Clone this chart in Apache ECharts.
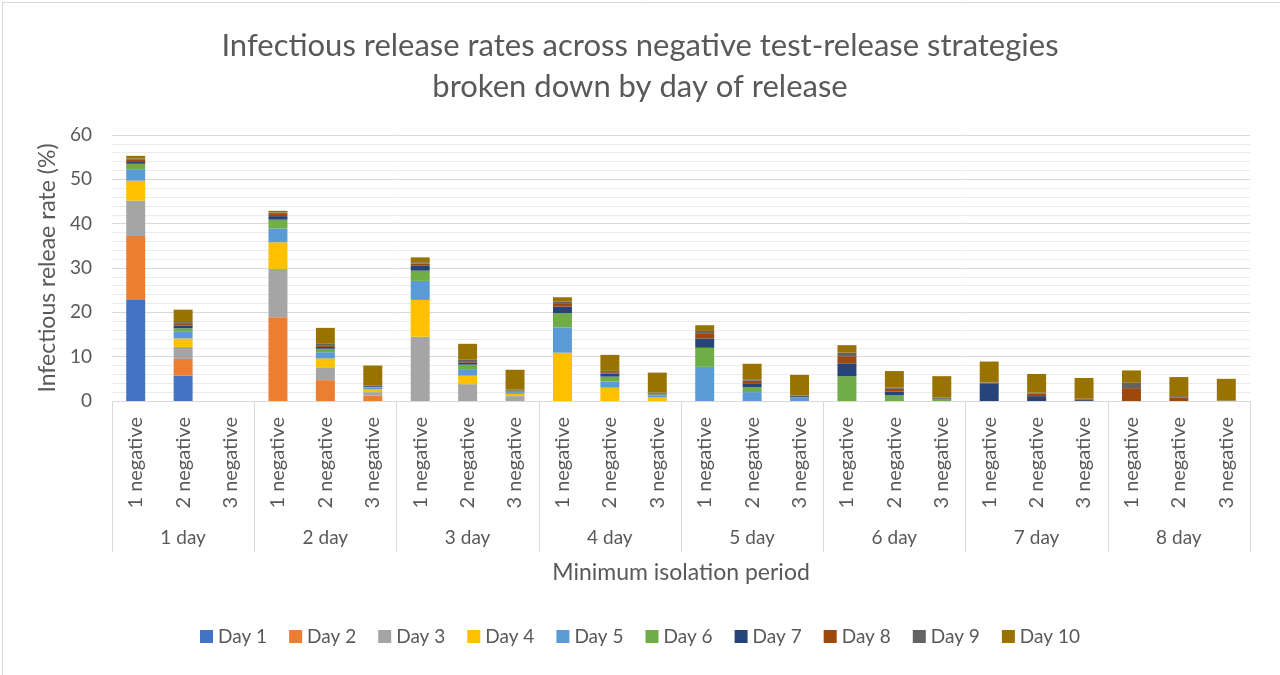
<!DOCTYPE html>
<html><head><meta charset="utf-8">
<script src="https://cdn.jsdelivr.net/npm/echarts@6/dist/echarts.min.js"></script>
<style>html,body{margin:0;padding:0;background:#fff}#c{width:1280px;height:675px}</style>
</head><body><div id="c"></div>
<script>
const periods = ['1 day','2 day','3 day','4 day','5 day','6 day','7 day','8 day'];
const tests = ['1 negative','2 negative','3 negative'];
const yTicks = [0, 10, 20, 30, 40, 50, 60];
// each array: 8 periods x (1 neg, 2 neg, 3 neg)
const day1  = [22.8,5.7,0,  0,0,0,        0,0,0,        0,0,0,        0,0,0,        0,0,0,        0,0,0,        0,0,0];
const day2  = [14.4,3.8,0,  18.9,4.7,1.2, 0,0,0,        0,0,0,        0,0,0,        0,0,0,        0,0,0,        0,0,0];
const day3  = [8.0,2.7,0,   10.9,2.9,0.8, 14.5,3.8,1.1, 0,0,0,        0,0,0,        0,0,0,        0,0,0,        0,0,0];
const day4  = [4.5,1.9,0,   6.0,2.0,0.6,  8.3,1.9,0.5,  10.9,3.0,0.8, 0,0,0,        0,0,0,        0,0,0,        0,0,0];
const day5  = [2.6,1.5,0,   3.1,1.4,0.4,  4.3,1.5,0.4,  5.7,1.4,0.5,  7.7,2.0,0.7,  0,0,0,        0,0,0,        0,0,0];
const day6  = [1.2,0.8,0,   2.0,0.8,0.2,  2.3,1.0,0.2,  3.2,1.1,0.2,  4.3,1.1,0.2,  5.6,1.35,0.4, 0,0,0,        0,0,0];
const day7  = [0.4,0.6,0,   0.8,0.4,0.2,  1.2,0.5,0.15, 1.5,0.7,0.2,  2.1,0.9,0.2,  2.9,0.8,0.2,  4.0,1.1,0.2,  0,0,0];
const day8  = [0.5,0.4,0,   0.5,0.4,0.1,  0.4,0.3,0.1,  0.6,0.3,0.1,  1.2,0.6,0.1,  1.6,0.6,0.1,  0.1,0.6,0.2,  2.9,0.8,0];
const day9  = [0.3,0.4,0,   0.3,0.3,0.1,  0.3,0.3,0.1,  0.5,0.3,0.1,  0.5,0.3,0.1,  0.8,0.3,0.1,  0.1,0.2,0.1,  1.2,0.3,0.1];
const day10 = [0.6,2.8,0,   0.4,3.6,4.4,  1.1,3.6,4.5,  1.0,3.6,4.5,  1.3,3.5,4.6,  1.7,3.7,4.8,  4.7,4.2,4.7,  2.8,4.3,4.9];

const seriesNames = ['Day 1','Day 2','Day 3','Day 4','Day 5','Day 6','Day 7','Day 8','Day 9','Day 10'];
const seriesData = [day1,day2,day3,day4,day5,day6,day7,day8,day9,day10];
const colors = ['#4472C4','#ED7D31','#A5A5A5','#FFC000','#5B9BD5','#70AD47','#264478','#9E480E','#636363','#997300'];

const categories = [];
periods.forEach(() => tests.forEach(t => categories.push(t)));

const FONT = 'Lato';
const TXT = '#595959';
const chart = echarts.init(document.getElementById('c'), null, {renderer: 'canvas'});
chart.setOption({
  animation: false,
  backgroundColor: '#fff',
  color: colors,
  textStyle: {fontFamily: FONT},
  title: {
    text: 'Infectious release rates across negative test-release strategies\nbroken down by day of release',
    left: 'center', top: 20,
    textStyle: {fontFamily: FONT, fontSize: 31, fontWeight: 'normal', color: TXT, lineHeight: 41}
  },
  legend: {
    top: 622, left: 'center',
    itemWidth: 13, itemHeight: 13, itemGap: 22,
    icon: 'rect',
    textStyle: {fontFamily: FONT, fontSize: 19, color: TXT},
    data: seriesNames
  },
  grid: {left: 112, right: 30, top: 135, bottom: 274, containLabel: false},
  xAxis: [{
    type: 'category', data: categories, position: 'bottom',
    axisLine: {lineStyle: {color: '#d9d9d9'}},
    axisTick: {show: false},
    axisLabel: {rotate: 90, interval: 0, margin: 16, fontFamily: FONT, fontSize: 20, color: TXT}
  }, {
    type: 'category', data: periods, position: 'bottom',
    axisLine: {show: true, lineStyle: {color: '#d9d9d9'}},
    axisTick: {show: true, length: 151, interval: 0, lineStyle: {color: '#d9d9d9'}},
    axisLabel: {interval: 0, margin: 127, fontFamily: FONT, fontSize: 19, color: TXT},
    name: 'Minimum isolation period', nameLocation: 'middle', nameGap: 160,
    nameTextStyle: {fontFamily: FONT, fontSize: 23, color: TXT}
  }],
  yAxis: {
    type: 'value', min: yTicks[0], max: yTicks[yTicks.length-1], interval: 10,
    axisLine: {show: false}, axisTick: {show: false},
    axisLabel: {fontFamily: FONT, fontSize: 19, color: TXT, margin: 20},
    splitLine: {lineStyle: {color: '#d9d9d9', width: 1}},
    minorTick: {show: false, splitNumber: 5},
    minorSplitLine: {show: true, lineStyle: {color: '#ebebeb', width: 1}},
    name: 'Infectious releae rate (%)', nameLocation: 'middle', nameGap: 52, nameRotate: 90,
    nameTextStyle: {fontFamily: FONT, fontSize: 23, color: TXT}
  },
  series: seriesNames.map((n, i) => ({
    name: n, type: 'bar', stack: 'total', xAxisIndex: 0,
    barCategoryGap: '60%',
    data: seriesData[i],
    itemStyle: {color: colors[i]}
  })),
  graphic: [{
    type: 'rect', left: 0, top: 0, z: -1,
    shape: {x: 0.5, y: 0.5, width: 1279, height: 674},
    style: {fill: null, stroke: '#d9d9d9', lineWidth: 1}
  }]
});
</script>
</body></html>
